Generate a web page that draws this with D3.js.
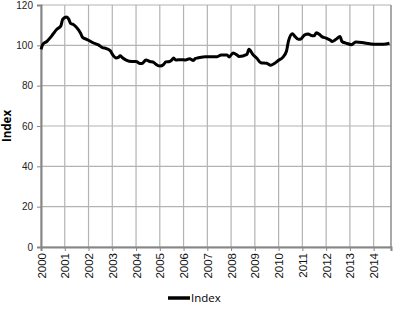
<!DOCTYPE html>
<html>
<head>
<meta charset="utf-8">
<script src="https://cdn.jsdelivr.net/npm/d3@7"></script>
<style>
  body { margin: 0; background: #fff; }
  svg { font-family: "Open Sans", "DejaVu Sans", sans-serif; }
</style>
</head>
<body>
<svg id="chart" width="394" height="312"></svg>
<script>
// values, month -> index
const months = ["2000-01","2000-02","2000-04","2000-06","2000-07","2000-09","2000-11","2000-12",
    "2001-02","2001-03","2001-04","2001-05","2001-07","2001-09","2001-10","2001-12",
    "2002-01","2002-03","2002-06","2002-08","2002-10","2002-12",
    "2003-01","2003-03","2003-04","2003-05","2003-06","2003-08","2003-11",
    "2004-01","2004-03","2004-04","2004-06","2004-08","2004-10","2004-11",
    "2005-01","2005-03","2005-04","2005-06","2005-07","2005-08","2005-09","2005-12",
    "2006-02","2006-04","2006-06","2006-07","2006-08","2006-12",
    "2007-06","2007-08","2007-11","2007-12",
    "2008-02","2008-04","2008-05","2008-09","2008-10","2008-12",
    "2009-02","2009-04","2009-07","2009-09","2009-11",
    "2010-01","2010-03","2010-05","2010-06","2010-08","2010-09","2010-11","2010-12",
    "2011-02","2011-04","2011-05","2011-07","2011-08","2011-10","2011-11",
    "2012-01","2012-03","2012-04","2012-06","2012-08","2012-09","2012-11",
    "2013-02","2013-03","2013-04","2013-07","2013-11",
    "2014-02","2014-06","2014-09"];
const values = [98, 100.6, 102, 104.2, 105.5, 108, 109.6, 113,
    114, 113, 110.8, 110.5, 108.8, 106, 103.9, 103,
    102.5, 101.4, 100.2, 98.9, 98.4, 97.3,
    95.6, 93.7, 94, 94.8, 94, 92.7, 92,
    92, 91, 91, 92.7, 92, 91.5, 90.6,
    89.7, 90.6, 91.8, 92, 92.7, 93.7, 92.7, 92.9,
    92.7, 93.3, 92.5, 93.5, 93.7, 94.4,
    94.4, 95.2, 95.2, 94.2,
    96.2, 95.2, 94.5, 95.5, 98, 95.5,
    93.6, 91.4, 91.1, 90.1, 91.1,
    92.6, 93.9, 97.2, 102.2, 105.8, 104.7, 103, 103,
    105.1, 105.6, 105.1, 104.7, 106.3, 105.1, 104.2,
    103.6, 102.6, 101.9, 103, 104.4, 101.9, 101.1,
    100.3, 101.1, 101.6, 101.4, 100.8,
    100.5, 100.5, 101];
const yearTicks = d3.range(2000, 2015);
const yTicks = [0, 20, 40, 60, 80, 100, 120];
const seriesName = "Index";

const margin = {top: 5, right: 3, bottom: 65, left: 41},
    width = 394 - margin.left - margin.right,
    height = 312 - margin.top - margin.bottom;

const svg = d3.select("#chart")
    .append("g")
    .attr("transform", "translate(" + margin.left + "," + margin.top + ")");

function toYear(m) {
    const p = m.split("-");
    return +p[0] + (+p[1] - 1) / 12;
}

const data = months.map(function (m, i) { return {x: toYear(m), y: values[i]}; });

const xScale = d3.scaleLinear()
    .domain([2000, 2014.73])
    .range([0, width]);

const yScale = d3.scaleLinear()
    .domain([0, 120])
    .range([height, 0]);

// grid
svg.append("g")
    .selectAll("line.hgrid")
    .data(yTicks)
    .enter().append("line")
    .attr("x1", 0).attr("x2", width)
    .attr("y1", function (d) { return yScale(d); })
    .attr("y2", function (d) { return yScale(d); })
    .attr("stroke", "#b3b3b3")
    .attr("stroke-width", 1.2);

svg.append("g")
    .selectAll("line.vgrid")
    .data(yearTicks)
    .enter().append("line")
    .attr("x1", function (d) { return xScale(d); })
    .attr("x2", function (d) { return xScale(d); })
    .attr("y1", 0).attr("y2", height)
    .attr("stroke", "#b3b3b3")
    .attr("stroke-width", 1.2);

// right border
svg.append("line")
    .attr("x1", width).attr("x2", width)
    .attr("y1", 0).attr("y2", height)
    .attr("stroke", "#8c8c8c")
    .attr("stroke-width", 1.5);

// y axis
const yAxis = svg.append("g")
    .call(d3.axisLeft(yScale).tickValues(yTicks).tickSize(4).tickPadding(4));
yAxis.select(".domain").attr("stroke", "#868686").attr("stroke-width", 2);
yAxis.selectAll(".tick line").attr("stroke", "#868686");
yAxis.selectAll("text").attr("font-size", 10).attr("fill", "#222");

// x axis
const xAxis = svg.append("g")
    .attr("transform", "translate(0," + height + ")")
    .call(d3.axisBottom(xScale).tickValues(yearTicks).tickSize(4).tickFormat(d3.format("d")));
xAxis.select(".domain").attr("stroke", "#868686").attr("stroke-width", 2);
xAxis.selectAll(".tick line").attr("stroke", "#868686");
xAxis.selectAll("text")
    .attr("font-size", 11.5)
    .attr("fill", "#111")
    .attr("transform", "rotate(-90)")
    .attr("text-anchor", "end")
    .attr("x", -6)
    .attr("y", 0)
    .attr("dy", "0.35em");

// axis title
svg.append("text")
    .attr("transform", "translate(" + (-34) + "," + (height / 2) + ") rotate(-90)")
    .attr("text-anchor", "middle")
    .attr("dy", "0.35em")
    .attr("font-size", 11.5)
    .attr("font-weight", "bold")
    .text("Index");

// line
const line = d3.line()
    .x(function (d) { return xScale(d.x); })
    .y(function (d) { return yScale(d.y); })
    .curve(d3.curveMonotoneX);

svg.append("path")
    .datum(data)
    .attr("fill", "none")
    .attr("stroke", "#000")
    .attr("stroke-width", 3)
    .attr("stroke-linejoin", "round")
    .attr("d", line);

// legend
const legend = d3.select("#chart").append("g")
    .attr("transform", "translate(168,298)");
legend.append("line")
    .attr("x1", 0).attr("x2", 22)
    .attr("stroke", "#000").attr("stroke-width", 3.5);
legend.append("text")
    .attr("x", 23).attr("dy", "0.35em")
    .attr("font-size", 11.5)
    .text(seriesName);
</script>
</body>
</html>
